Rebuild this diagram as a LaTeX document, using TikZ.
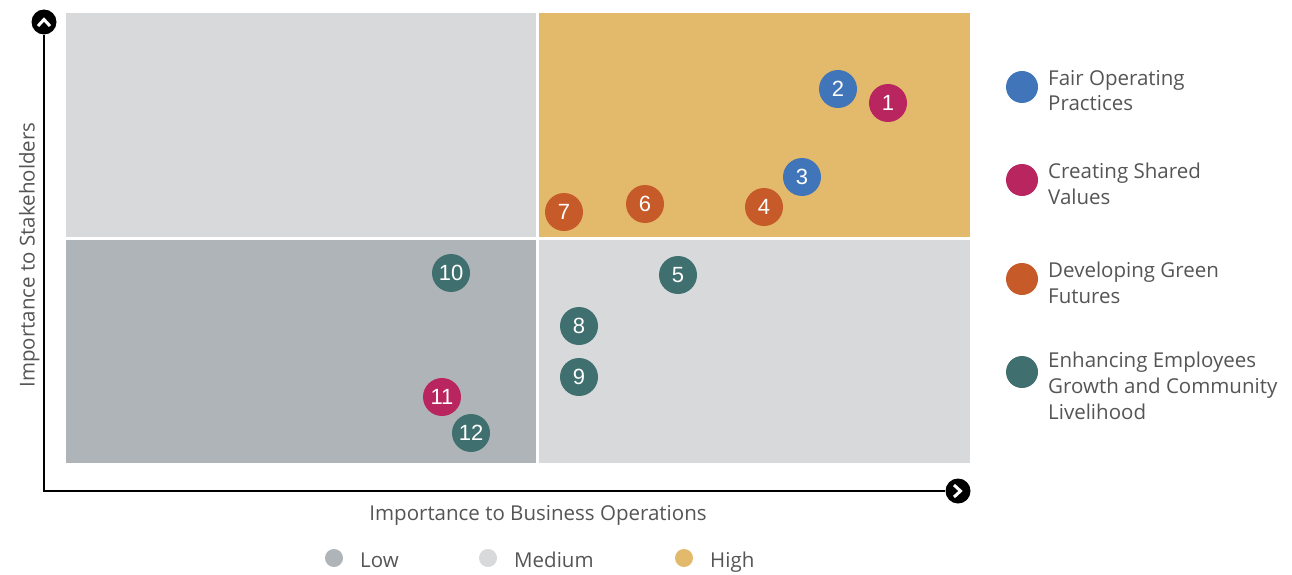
\documentclass[tikz,border=0pt]{standalone}
\usepackage{fontspec}
\usetikzlibrary{calc}
\setmainfont{Open Sans}
\newfontfamily\numfont{Liberation Sans}
\definecolor{qlow}{HTML}{AEB4B7}
\definecolor{qmed}{HTML}{D8D9DB}
\definecolor{qhigh}{HTML}{E3B96B}
\definecolor{cblue}{HTML}{4075BA}
\definecolor{cmag}{HTML}{B8255F}
\definecolor{corange}{HTML}{C65A29}
\definecolor{cteal}{HTML}{3F706F}
\definecolor{txt}{HTML}{555555}
\begin{document}
\begin{tikzpicture}[x=1pt,y=-1pt,
  dot/.style={circle,minimum size=38pt,inner sep=0pt,text=white,font=\numfont\fontsize{22}{22}\selectfont},
  legdot/.style={circle,minimum size=32pt,inner sep=0pt},
  smalldot/.style={circle,minimum size=18pt,inner sep=0pt},
  legtxt/.style={anchor=base west,align=left,text=txt,font=\fontsize{20.5}{25.8}\selectfont,inner sep=0pt},
  axtxt/.style={text=txt,font=\fontsize{20.5}{24}\selectfont,inner sep=0pt}]
\useasboundingbox (0,0) rectangle (1292,575);
% quadrants
\fill[qmed] (66,13) rectangle (536,237);
\fill[qhigh] (539,13) rectangle (970,237);
\fill[qlow] (66,240) rectangle (536,463);
\fill[qmed] (539,240) rectangle (970,463);
% axes
\coordinate (origin) at (44,491);
\node[circle,fill=black,minimum size=25pt,inner sep=0pt] (ytip) at (44,22) {};
\node[circle,fill=black,minimum size=25pt,inner sep=0pt] (xtip) at (958,491) {};
\draw[line width=1.3pt] (ytip.south) -- (origin) -- (xtip.west);
\draw[white,line width=3pt,line cap=butt,line join=miter] ($(ytip)+(-6,4)$) -- ($(ytip)+(0,-2.5)$) -- ($(ytip)+(6,4)$);
\draw[white,line width=3pt,line cap=butt,line join=miter] ($(xtip)+(-4,-6)$) -- ($(xtip)+(2.5,0)$) -- ($(xtip)+(-4,6)$);
\node[axtxt,rotate=90,anchor=base] (ylab) at (34.5,255) {Importance to Stakeholders};
\node[axtxt,anchor=base] (xlab) at (538,520) {Importance to Business Operations};
% points
\node[dot,fill=cblue] (p2) at (838,89) {2};
\node[dot,fill=cmag] (p1) at (888,103) {1};
\node[dot,fill=cblue] (p3) at (802,177) {3};
\node[dot,fill=corange] (p4) at (764,207) {4};
\node[dot,fill=corange] (p6) at (645,204) {6};
\node[dot,fill=corange] (p7) at (564,212) {7};
\node[dot,fill=cteal] (p5) at (678,275) {5};
\node[dot,fill=cteal] (p10) at (451,273) {10};
\node[dot,fill=cteal] (p8) at (579,326) {8};
\node[dot,fill=cteal] (p9) at (579,377) {9};
\node[dot,fill=cmag] (p11) at (442,397) {11};
\node[dot,fill=cteal] (p12) at (471,433) {12};
% legend right
\node[legdot,fill=cblue] (l1) at (1022,87) {};
\node[legdot,fill=cmag] (l2) at (1022,180) {};
\node[legdot,fill=corange] (l3) at (1022,279) {};
\node[legdot,fill=cteal] (l4) at (1022,372) {};
\node[legtxt] (t1) at (1048,111) {Fair Operating\\Practices};
\node[legtxt] (t2) at (1048,204) {Creating Shared\\Values};
\node[legtxt] (t3) at (1048,303) {Developing Green\\Futures};
\node[legtxt] (t4) at (1048,419) {Enhancing Employees\\Growth and Community\\Livelihood};
% bottom legend
\node[smalldot,fill=qlow] (b1) at (334,558) {};
\node[smalldot,fill=qmed] (b2) at (488,558) {};
\node[smalldot,fill=qhigh] (b3) at (684,558) {};
\node[axtxt,anchor=base west] (bt1) at (360,567) {Low};
\node[axtxt,anchor=base west] (bt2) at (514,567) {Medium};
\node[axtxt,anchor=base west] (bt3) at (710,567) {High};
\end{tikzpicture}
\end{document}
